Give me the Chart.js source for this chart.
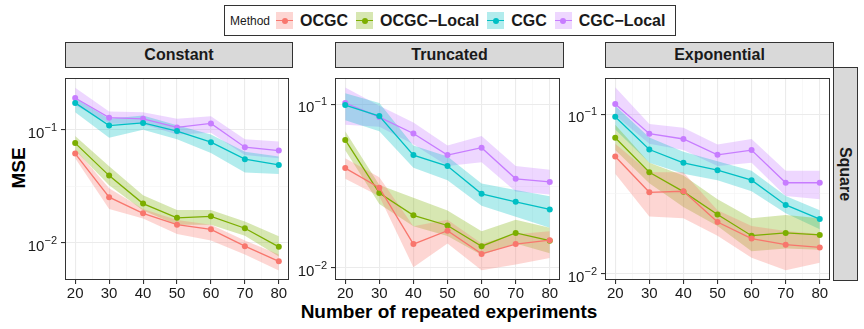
<!DOCTYPE html>
<html>
<head>
<meta charset="utf-8">
<script src="https://cdn.jsdelivr.net/npm/chart.js@4.4.1/dist/chart.umd.min.js"></script>
<style>
  body { margin:0; background:#fff; font-family:"Liberation Sans", Arial, sans-serif; }
  #wrap { position:relative; width:864px; height:329px; overflow:hidden; }
  canvas { position:absolute; }
  .strip { position:absolute; background:#D9D9D9; border:1px solid #333; box-sizing:border-box;
           font-weight:bold; font-size:16px; color:#1a1a1a; display:flex; align-items:center; justify-content:center; }
  .legend { position:absolute; left:224px; top:5px; width:452px; height:31px; border:1px solid #333; box-sizing:border-box;
            display:flex; align-items:center; padding-left:5px; }
  .legend .ttl { font-size:12px; margin-right:6px; color:#1a1a1a; }
  .legend .key { position:relative; width:17px; height:17px; margin-right:7px; }
  .legend .lab { font-size:16px; font-weight:bold; margin-right:8px; color:#1a1a1a; }
  .key .ln { position:absolute; left:0; right:0; top:8px; height:1.3px; }
  .key .dt { position:absolute; left:5.5px; top:5.5px; width:6px; height:6px; border-radius:50%; }
  .axtitle { position:absolute; font-weight:bold; font-size:19px; color:#000; white-space:nowrap; }
</style>
</head>
<body>
<div id="wrap">
  <div class="legend" id="legend"><span class="ttl">Method</span></div>
  <div class="strip" style="left:65px;top:42px;width:228px;height:26px;">Constant</div>
  <div class="strip" style="left:335px;top:42px;width:229px;height:26px;">Truncated</div>
  <div class="strip" style="left:605px;top:42px;width:229px;height:26px;">Exponential</div>
  <div class="strip" style="left:833px;top:67px;width:25px;height:214px;"><span style="transform:rotate(90deg);display:inline-block;">Square</span></div>
  <div class="axtitle" style="left:19px;top:168px;transform:translate(-50%,-50%) rotate(-90deg);">MSE</div>
  <div class="axtitle" style="left:449px;top:301px;transform:translateX(-50%);">Number of repeated experiments</div>
  <canvas id="c1" width="271" height="240" style="left:22px;top:67px;"></canvas>
  <canvas id="c2" width="270" height="240" style="left:294px;top:67px;"></canvas>
  <canvas id="c3" width="269" height="240" style="left:565px;top:67px;"></canvas>
</div>
<script>
// x values (number of repeated experiments)
const repeats = [20, 30, 40, 50, 60, 70, 80];
const methods = ['OCGC', 'OCGC\u2212Local', 'CGC', 'CGC\u2212Local'];
const colors = ['#F8766D', '#7CAE00', '#00BFC4', '#C77CFF'];
const fillRGB = ['248,118,109', '124,174,0', '0,191,196', '199,124,255'];

// rows follow methods order
const constantMean = [
  [0.0617, 0.0254, 0.0183, 0.0145, 0.0132, 0.00937, 0.00689],
  [0.0763, 0.0394, 0.0223, 0.0167, 0.0172, 0.0135, 0.00925],
  [0.173, 0.109, 0.115, 0.0975, 0.0778, 0.055, 0.049],
  [0.191, 0.128, 0.125, 0.105, 0.114, 0.0702, 0.0655]
];
const constantLow = [
  [0.056, 0.020, 0.0165, 0.012, 0.0105, 0.0079, 0.0057],
  [0.066, 0.0324, 0.0194, 0.0145, 0.0145, 0.0116, 0.0076],
  [0.143, 0.085, 0.100, 0.0825, 0.0625, 0.042, 0.0407],
  [0.165, 0.114, 0.112, 0.091, 0.094, 0.0598, 0.056]
];
const constantHigh = [
  [0.068, 0.0304, 0.020, 0.016, 0.0145, 0.0105, 0.0079],
  [0.088, 0.0477, 0.0264, 0.0196, 0.0196, 0.0155, 0.0115],
  [0.19, 0.125, 0.134, 0.11, 0.091, 0.064, 0.058],
  [0.235, 0.145, 0.143, 0.125, 0.132, 0.0825, 0.0788]
];

const truncatedMean = [
  [0.0408, 0.031, 0.014, 0.0169, 0.0122, 0.014, 0.0148],
  [0.0607, 0.0287, 0.021, 0.0182, 0.0136, 0.0164, 0.0147],
  [0.099, 0.0848, 0.049, 0.042, 0.0284, 0.0254, 0.0228],
  [0.102, 0.0837, 0.0664, 0.049, 0.0544, 0.0351, 0.0336]
];
const truncatedLow = [
  [0.0351, 0.0275, 0.0101, 0.0141, 0.0097, 0.0105, 0.0115],
  [0.0525, 0.0246, 0.018, 0.0157, 0.012, 0.0141, 0.0123],
  [0.08, 0.0686, 0.041, 0.0344, 0.024, 0.0206, 0.0176],
  [0.075, 0.073, 0.057, 0.042, 0.0443, 0.0294, 0.0281]
];
const truncatedHigh = [
  [0.0469, 0.0359, 0.018, 0.0197, 0.0141, 0.0161, 0.0168],
  [0.0686, 0.0322, 0.0269, 0.0225, 0.0168, 0.0197, 0.0176],
  [0.117, 0.102, 0.056, 0.048, 0.0328, 0.030, 0.0275],
  [0.127, 0.098, 0.0776, 0.0561, 0.064, 0.042, 0.0398]
];

const exponentialMean = [
  [0.0544, 0.0324, 0.0329, 0.0211, 0.0166, 0.0152, 0.0146],
  [0.0713, 0.0433, 0.0327, 0.0235, 0.0173, 0.018, 0.0175],
  [0.0964, 0.0601, 0.0496, 0.0446, 0.0386, 0.027, 0.022],
  [0.116, 0.0756, 0.070, 0.0557, 0.0596, 0.0372, 0.0372]
];
const exponentialLow = [
  [0.0423, 0.0228, 0.0223, 0.0173, 0.0126, 0.0105, 0.0117],
  [0.0596, 0.0369, 0.0262, 0.0199, 0.0138, 0.0144, 0.0141],
  [0.0803, 0.0496, 0.0423, 0.0386, 0.0329, 0.0239, 0.019],
  [0.0986, 0.0653, 0.0596, 0.0474, 0.0496, 0.0307, 0.0293]
];
const exponentialHigh = [
  [0.0653, 0.0433, 0.0433, 0.025, 0.0199, 0.0185, 0.0177],
  [0.086, 0.0496, 0.0413, 0.0293, 0.0223, 0.0233, 0.0223],
  [0.113, 0.0716, 0.0582, 0.0508, 0.0442, 0.0307, 0.025],
  [0.148, 0.0868, 0.0822, 0.0647, 0.07, 0.0442, 0.0442]
];

const xTicks = [20, 25, 30, 35, 40, 45, 50, 55, 60, 65, 70, 75, 80];
const yTicks = [0.01, Math.pow(10, -1.5), 0.1];

const FONT = '"Liberation Sans", Arial, sans-serif';

// legend
const leg = document.getElementById('legend');
methods.forEach(function (m, i) {
  const k = document.createElement('span');
  k.className = 'key';
  k.style.background = 'rgba(' + fillRGB[i] + ',0.3)';
  k.innerHTML = '<span class="ln" style="background:' + colors[i] + '"></span><span class="dt" style="background:' + colors[i] + '"></span>';
  const l = document.createElement('span');
  l.className = 'lab';
  l.textContent = m;
  leg.appendChild(k);
  leg.appendChild(l);
});

function isMajorLog(v) {
  const l = Math.log10(v);
  return Math.abs(l - Math.round(l)) < 0.01;
}

// panel border + "10^-k" tick labels drawn with a real superscript
const frame = {
  id: 'frame',
  beforeDraw(chart) {
    const a = chart.chartArea, ctx = chart.ctx;
    ctx.save();
    ctx.fillStyle = '#fff';
    ctx.fillRect(a.left, a.top, a.right - a.left, a.bottom - a.top);
    ctx.restore();
  },
  afterDraw(chart) {
    const a = chart.chartArea, ctx = chart.ctx;
    ctx.save();
    ctx.strokeStyle = '#333';
    ctx.lineWidth = 1;
    ctx.strokeRect(Math.round(a.left) + 0.5, Math.round(a.top) + 0.5, Math.round(a.right - a.left) - 1, Math.round(a.bottom - a.top) - 1);

    const ys = chart.scales.y;
    ctx.fillStyle = '#1a1a1a';
    ctx.textBaseline = 'alphabetic';
    ys.ticks.forEach(t => {
      if (!isMajorLog(t.value)) return;
      const py = ys.getPixelForValue(t.value);
      const sup = '\u2212' + Math.abs(Math.round(Math.log10(t.value)));
      ctx.font = '11px ' + FONT;
      const sw = ctx.measureText(sup).width;
      const right = a.left - 8;
      ctx.textAlign = 'right';
      ctx.fillText(sup, right, py + 1);
      ctx.font = '15px ' + FONT;
      ctx.fillText('10', right - sw, py + 8);
    });
    ctx.restore();
  }
};

function makePanel(id, means, lows, highs, yMin, yMax, yWidth) {
  const datasets = [];
  for (let i = 0; i < methods.length; i++) {
    datasets.push({
      data: repeats.map((x, j) => ({ x: x, y: highs[i][j] })),
      borderWidth: 0, pointRadius: 0, fill: false, borderColor: 'rgba(0,0,0,0)'
    });
    datasets.push({
      data: repeats.map((x, j) => ({ x: x, y: lows[i][j] })),
      borderWidth: 0, pointRadius: 0, fill: '-1', borderColor: 'rgba(0,0,0,0)',
      backgroundColor: 'rgba(' + fillRGB[i] + ',0.3)'
    });
  }
  for (let i = 0; i < methods.length; i++) {
    datasets.push({
      label: methods[i],
      data: repeats.map((x, j) => ({ x: x, y: means[i][j] })),
      borderColor: colors[i], backgroundColor: colors[i],
      borderWidth: 1.3, pointRadius: 3, pointBorderWidth: 0,
      fill: false, tension: 0
    });
  }
  return new Chart(document.getElementById(id), {
    type: 'line',
    data: { datasets: datasets },
    plugins: [frame],
    options: {
      responsive: false,
      animation: false,
      devicePixelRatio: 1,
      layout: { padding: { top: 0, right: 1, bottom: 0, left: 0 } },
      plugins: {
        legend: { display: false },
        tooltip: { enabled: false },
        filler: { drawTime: 'beforeDatasetsDraw' }
      },
      scales: {
        x: {
          type: 'linear', min: 17, max: 83,
          afterBuildTicks: s => { s.ticks = xTicks.map(v => ({ value: v })); },
          afterFit: s => { s.height = 27; },
          ticks: {
            autoSkip: false, maxRotation: 0, padding: 1, color: '#1a1a1a',
            font: { size: 15, family: FONT },
            callback: v => (v % 10 === 0 ? String(v) : '')
          },
          grid: {
            color: c => (c.tick && c.tick.value % 10 === 0 ? '#EBEBEB' : '#F4F4F4'),
            lineWidth: c => (c.tick && c.tick.value % 10 === 0 ? 1.1 : 0.6),
            tickColor: c => (c.tick && c.tick.value % 10 === 0 ? '#333' : 'rgba(0,0,0,0)'),
            tickLength: 4
          },
          border: { display: false }
        },
        y: {
          type: 'logarithmic', min: yMin, max: yMax,
          afterBuildTicks: s => { s.ticks = yTicks.map(v => ({ value: v })); },
          afterFit: s => { s.width = yWidth; },
          ticks: {
            autoSkip: false, padding: 2, color: '#1a1a1a',
            font: { size: 15, family: FONT },
            callback: () => ''
          },
          grid: {
            color: c => (c.tick && isMajorLog(c.tick.value) ? '#EBEBEB' : '#F4F4F4'),
            lineWidth: c => (c.tick && isMajorLog(c.tick.value) ? 1.1 : 0.6),
            tickColor: c => (c.tick && isMajorLog(c.tick.value) ? '#333' : 'rgba(0,0,0,0)'),
            tickLength: 4
          },
          border: { display: false }
        }
      }
    }
  });
}

makePanel('c1', constantMean, constantLow, constantHigh, 0.00471, 0.287, 43);
makePanel('c2', truncatedMean, truncatedLow, truncatedHigh, 0.00845, 0.145, 41);
makePanel('c3', exponentialMean, exponentialLow, exponentialHigh, 0.00912, 0.169, 40);
</script>
</body>
</html>
